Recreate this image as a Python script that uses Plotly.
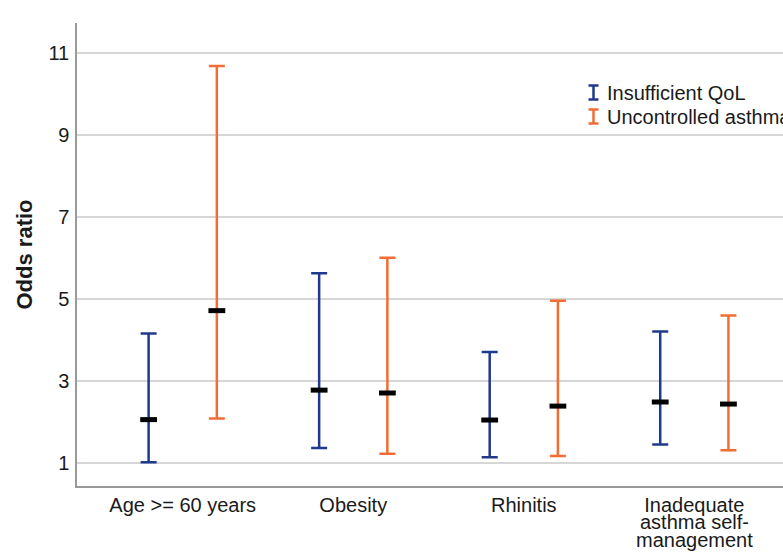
import plotly.graph_objects as go

# ---- data ----
categories = ["Age >= 60 years", "Obesity", "Rhinitis", "Inadequate asthma self-management"]
# tick label lines as printed under each category
tick_lines = [["Age >= 60 years"], ["Obesity"], ["Rhinitis"],
              ["Inadequate", "asthma self-", "management"]]
series_names = ["Insufficient QoL", "Uncontrolled asthma"]
qol_or = [2.05, 2.77, 2.04, 2.48]
qol_lower = [1.01, 1.36, 1.13, 1.44]
qol_upper = [4.15, 5.62, 3.70, 4.20]
unc_or = [4.71, 2.70, 2.38, 2.43]
unc_lower = [2.08, 1.22, 1.16, 1.30]
unc_upper = [10.68, 6.00, 4.95, 4.59]
y_ticks = [1, 3, 5, 7, 9, 11]

BLUE = "#1f3a8c"
ORANGE = "#f26d35"
FONT = "Arial, 'Liberation Sans', sans-serif"
TXT = "#1a1a1a"

W, H = 783, 552
ML, MR, MT, MB = 77, 0, 23, 66

fig = go.Figure()
for name, orv, lo, up, col in [
    (series_names[0], qol_or, qol_lower, qol_upper, BLUE),
    (series_names[1], unc_or, unc_lower, unc_upper, ORANGE),
]:
    fig.add_trace(go.Scatter(
        x=categories, y=orv, name=name, mode="markers", showlegend=False,
        marker=dict(symbol="line-ew", size=12, color="black",
                    line=dict(width=5, color="black")),
        error_y=dict(type="data", symmetric=False,
                     array=[u - o for u, o in zip(up, orv)],
                     arrayminus=[o - l for o, l in zip(orv, lo)],
                     color=col, thickness=2.5, width=8),
    ))

pw = W - ML - MR
ph = H - MT - MB


def px(xp):
    return (xp - ML) / pw


def py(yp):
    return (H - MB - yp) / ph


shapes = []
annotations = []
# custom legend (clipped at the right edge like the reference)
for i, (name, col) in enumerate(zip(series_names, [BLUE, ORANGE])):
    cy = 92.5 + i * 24
    cx = 593.5
    for (x0, y0, x1, y1) in [(cx, cy - 7, cx, cy + 7), (cx - 5, cy - 7, cx + 5, cy - 7),
                             (cx - 5, cy + 7, cx + 5, cy + 7)]:
        shapes.append(dict(type="line", xref="paper", yref="paper",
                           x0=px(x0), y0=py(y0), x1=px(x1), y1=py(y1),
                           line=dict(color=col, width=2.5)))
    annotations.append(dict(text=name, xref="paper", yref="paper", x=px(605), y=py(cy),
                            xanchor="left", yanchor="middle", showarrow=False,
                            font=dict(family=FONT, size=20, color=TXT)))

# extra lines of wrapped category labels (tighter line spacing than plotly's <br>)
for cat, lines in zip(categories, tick_lines):
    for j, line in enumerate(lines[1:], start=1):
        annotations.append(dict(text=line, xref="x", yref="paper", x=cat,
                                y=py(504 + 17.9 * j), xanchor="center", yanchor="middle",
                                showarrow=False,
                                font=dict(family=FONT, size=20, color=TXT)))

fig.update_layout(
    width=W, height=H,
    margin=dict(l=ML, r=MR, t=MT, b=MB, autoexpand=False),
    paper_bgcolor="white", plot_bgcolor="white",
    font=dict(family=FONT, size=20, color=TXT),
    scattermode="group", scattergap=0.2,
    shapes=shapes, annotations=annotations,
    xaxis=dict(type="category", categoryorder="array", categoryarray=categories,
               tickvals=categories, ticktext=[l[0] for l in tick_lines],
               range=[-0.62, 3.52], showgrid=False, zeroline=False, automargin=False,
               showline=True, linecolor="#9a9a9a", linewidth=1.5,
               ticks="", tickfont=dict(family=FONT, size=20, color=TXT)),
    yaxis=dict(range=[0.43, 11.73], tickvals=y_ticks, showgrid=True, automargin=False,
               gridcolor="#d6d6d6", gridwidth=1.5, zeroline=False,
               showline=True, linecolor="#9a9a9a", linewidth=1.5,
               ticks="", ticklabelstandoff=2,
               tickfont=dict(family=FONT, size=20, color=TXT),
               title=dict(text="<b>Odds ratio</b>", standoff=10,
                          font=dict(family=FONT, size=22, color=TXT))),
)

fig.write_html("out.html", config={"displayModeBar": False},
               post_script="document.body.style.margin='0';document.body.style.overflow='hidden';")
